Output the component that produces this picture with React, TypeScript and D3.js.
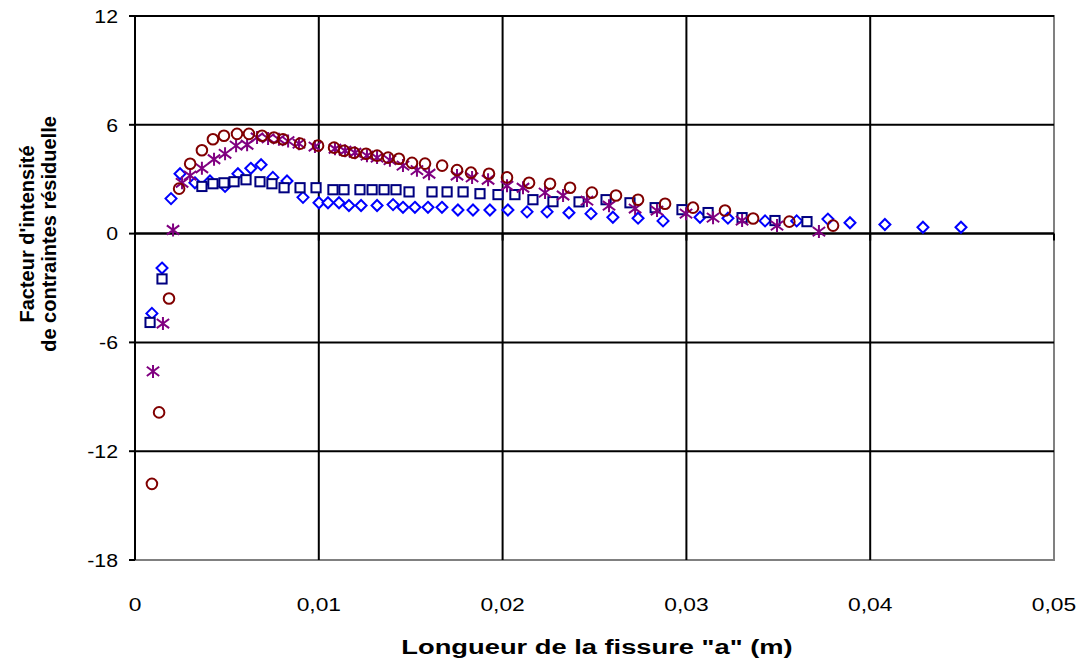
import React from "react";
import * as d3 from "d3";

const W = 1081;
const H = 658;

const xTicks = [0, 0.01, 0.02, 0.03, 0.04, 0.05];
const xTickLabels = ["0", "0,01", "0,02", "0,03", "0,04", "0,05"];
const yTicks = [12, 6, 0, -6, -12, -18];
const yTickLabels = ["12", "6", "0", "-6", "-12", "-18"];

// Series 1: diamonds (blue)
const diamondX = [0.00092, 0.00147, 0.00196, 0.00245, 0.00326, 0.00408, 0.0049, 0.0056, 0.0063, 0.00686, 0.0075, 0.00827, 0.00914, 0.01001, 0.0105, 0.0111, 0.01164, 0.0123, 0.01317, 0.01404, 0.01458, 0.01523, 0.01594, 0.0167, 0.01757, 0.01839, 0.01931, 0.02029, 0.02133, 0.02242, 0.02361, 0.02481, 0.026, 0.02737, 0.02873, 0.03074, 0.03226, 0.03428, 0.036, 0.0377, 0.0389, 0.0408, 0.04287, 0.04494];
const diamondY = [-4.4, -1.9, 1.93, 3.3, 2.8, 2.9, 2.6, 3.3, 3.6, 3.8, 3.1, 2.9, 2.0, 1.7, 1.7, 1.7, 1.55, 1.55, 1.55, 1.6, 1.45, 1.45, 1.45, 1.45, 1.3, 1.3, 1.3, 1.3, 1.2, 1.2, 1.15, 1.1, 0.9, 0.85, 0.7, 0.9, 0.85, 0.7, 0.7, 0.8, 0.6, 0.5, 0.35, 0.35];

// Series 2: squares (navy)
const squareX = [0.00082, 0.00147, 0.00364, 0.00424, 0.00484, 0.00539, 0.00604, 0.0068, 0.00745, 0.00811, 0.00898, 0.00985, 0.01077, 0.01137, 0.01224, 0.0129, 0.01355, 0.0142, 0.01491, 0.01616, 0.01698, 0.01785, 0.01877, 0.01975, 0.02067, 0.02165, 0.02274, 0.02416, 0.02563, 0.02693, 0.0283, 0.02976, 0.03118, 0.03303, 0.03482, 0.03656];
const squareY = [-4.9, -2.5, 2.6, 2.75, 2.8, 2.86, 2.97, 2.86, 2.75, 2.53, 2.53, 2.53, 2.42, 2.42, 2.42, 2.42, 2.42, 2.42, 2.3, 2.3, 2.3, 2.3, 2.2, 2.15, 2.15, 1.87, 1.76, 1.75, 1.87, 1.7, 1.43, 1.32, 1.16, 0.88, 0.72, 0.66];

// Series 3: asterisks (purple)
const starX = [0.00098, 0.00152, 0.00207, 0.00256, 0.003, 0.00364, 0.0043, 0.0049, 0.0055, 0.0061, 0.00664, 0.00724, 0.00783, 0.00833, 0.00892, 0.00979, 0.01088, 0.01143, 0.01197, 0.01262, 0.01317, 0.01387, 0.01458, 0.01534, 0.016, 0.01752, 0.01834, 0.01921, 0.02024, 0.02111, 0.02231, 0.02329, 0.02459, 0.02579, 0.02721, 0.0284, 0.02998, 0.03145, 0.03303, 0.03493, 0.03721];
const starY = [-7.6, -4.96, 0.2, 2.8, 3.2, 3.6, 4.1, 4.4, 4.85, 4.9, 5.3, 5.25, 5.2, 5.1, 4.96, 4.8, 4.68, 4.57, 4.46, 4.3, 4.19, 4.05, 3.75, 3.5, 3.3, 3.2, 3.1, 2.97, 2.64, 2.53, 2.26, 2.1, 1.82, 1.54, 1.38, 1.27, 1.1, 0.88, 0.72, 0.44, 0.11];

// Series 4: circles (dark red)
const circleX = [0.00092, 0.00131, 0.00185, 0.0024, 0.003, 0.00364, 0.00424, 0.00484, 0.00555, 0.0062, 0.00691, 0.00756, 0.00805, 0.00898, 0.00996, 0.01083, 0.01137, 0.01192, 0.01257, 0.01317, 0.01377, 0.01436, 0.01507, 0.01578, 0.01671, 0.01752, 0.01828, 0.01926, 0.02024, 0.02144, 0.02258, 0.02367, 0.02486, 0.02617, 0.02737, 0.02884, 0.03036, 0.0321, 0.03363, 0.0356, 0.03798];
const circleY = [-13.8, -9.86, -3.58, 2.48, 3.85, 4.6, 5.2, 5.4, 5.5, 5.5, 5.4, 5.3, 5.2, 4.96, 4.85, 4.74, 4.57, 4.46, 4.4, 4.3, 4.19, 4.13, 3.9, 3.86, 3.75, 3.5, 3.36, 3.3, 3.1, 2.8, 2.75, 2.53, 2.26, 2.1, 1.87, 1.65, 1.43, 1.27, 0.83, 0.66, 0.44];

const xTitle = 'Longueur de la fissure "a" (m)';
const yTitle1 = "Facteur d'intensité";
const yTitle2 = "de contraintes résiduelle";

const FONT = "Liberation Sans, Arial, sans-serif";
const SX = 1.3; // horizontal stretch of the x-axis title

export default function App() {
  const left = 135, right = 1054, top = 16, bottom = 560;
  const x = d3.scaleLinear().domain([0, 0.05]).range([left, right]);
  const y = d3.scaleLinear().domain([-18, 12]).range([bottom, top]);

  const diamonds = diamondX.map((v, i) => [x(v), y(diamondY[i])]);
  const squares = squareX.map((v, i) => [x(v), y(squareY[i])]);
  const stars = starX.map((v, i) => [x(v), y(starY[i])]);
  const circles = circleX.map((v, i) => [x(v), y(circleY[i])]);

  const d = 5.5;
  const s = 4.6;
  const av = 6.5, ah = 6.2, ad = 4.6;

  return (
    <svg width={W} height={H} style={{ position: "absolute", left: 0, top: 0, background: "#fff" }}>
      <rect x={left} y={top} width={right - left} height={bottom - top} fill="none" stroke="#808080" strokeWidth={2} />
      {yTicks.filter((t) => t !== -18).map((t) => (
        <line key={"hg" + t} x1={left} x2={right} y1={y(t)} y2={y(t)} stroke="#000" strokeWidth={2} />
      ))}
      {xTicks.filter((t) => t !== 0 && t !== 0.05).map((t) => (
        <line key={"vg" + t} x1={x(t)} x2={x(t)} y1={top} y2={bottom} stroke="#000" strokeWidth={2} />
      ))}
      <line x1={left} x2={left} y1={top} y2={bottom} stroke="#000" strokeWidth={2} />
      {yTicks.map((t) => (
        <line key={"yt" + t} x1={left - 6} x2={left} y1={y(t)} y2={y(t)} stroke="#000" strokeWidth={2} />
      ))}
      <line x1={left} x2={right} y1={y(0)} y2={y(0)} stroke="#000" strokeWidth={2} />
      {xTicks.map((t) => (
        <line key={"xt" + t} x1={x(t)} x2={x(t)} y1={y(0)} y2={y(0) + 7} stroke="#000" strokeWidth={2} />
      ))}

      {yTicks.map((t, i) => (
        <g key={"yl" + t} transform={`translate(${left - 17}, ${y(t)}) scale(1.12, 1)`}>
          <text x={0} y={0} dy="0.36em" textAnchor="end" fontFamily={FONT} fontSize={19} fill="#000">
            {yTickLabels[i]}
          </text>
        </g>
      ))}
      {xTicks.map((t, i) => (
        <g key={"xl" + t} transform={`translate(${x(t)}, 611) scale(1.2, 1)`}>
          <text x={0} y={0} textAnchor="middle" fontFamily={FONT} fontSize={19} fill="#000">
            {xTickLabels[i]}
          </text>
        </g>
      ))}

      <g transform={`translate(597, 654) scale(${SX}, 1)`}>
        <text x={0} y={0} textAnchor="middle" fontFamily={FONT} fontSize={21} fontWeight="bold" fill="#000">
          {xTitle}
        </text>
      </g>
      <g transform={`translate(0, 234) rotate(-90)`}>
        <text x={0} y={34} textAnchor="middle" fontFamily={FONT} fontSize={20} fontWeight="bold" fill="#000">
          {yTitle1}
        </text>
        <text x={0} y={56} textAnchor="middle" fontFamily={FONT} fontSize={20} fontWeight="bold" fill="#000">
          {yTitle2}
        </text>
      </g>

      {diamonds.map(([px, py], i) => (
        <path key={"d" + i} d={`M${px},${py - d}L${px + d},${py}L${px},${py + d}L${px - d},${py}Z`} fill="#fff" stroke="#0000FF" strokeWidth={2} />
      ))}
      {squares.map(([px, py], i) => (
        <rect key={"s" + i} x={px - s} y={py - s} width={2 * s} height={2 * s} fill="#fff" stroke="#000080" strokeWidth={2} />
      ))}
      {stars.map(([px, py], i) => (
        <path
          key={"a" + i}
          d={`M${px},${py - av}L${px},${py + av}M${px - ah},${py - ad}L${px + ah},${py + ad}M${px - ah},${py + ad}L${px + ah},${py - ad}`}
          fill="none"
          stroke="#800080"
          strokeWidth={2}
        />
      ))}
      {circles.map(([px, py], i) => (
        <circle key={"c" + i} cx={px} cy={py} r={5.3} fill="none" stroke="#800000" strokeWidth={2} />
      ))}
    </svg>
  );
}
